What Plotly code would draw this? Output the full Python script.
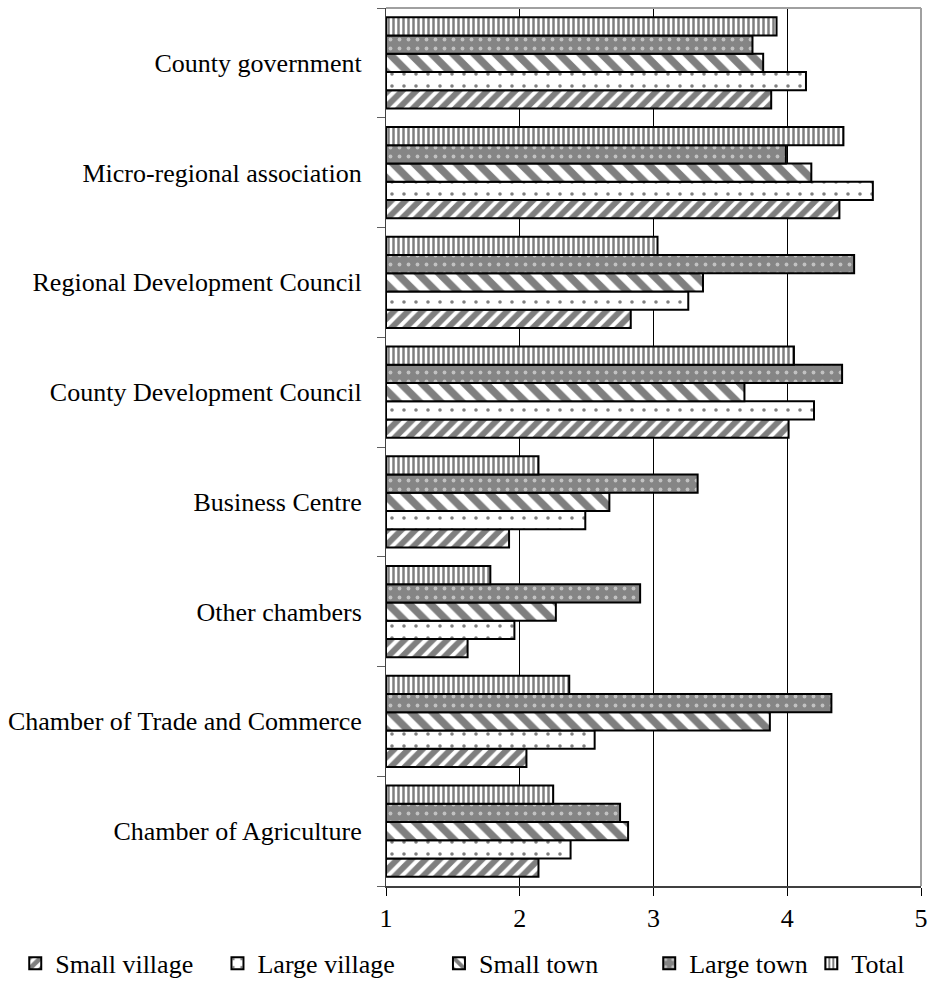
import plotly.graph_objects as go

# categories listed bottom-to-top (plotly puts the first category at the bottom)
categories = [
    "Chamber of Agriculture",
    "Chamber of Trade and Commerce",
    "Other chambers",
    "Business Centre",
    "County Development Council",
    "Regional Development Council",
    "Micro-regional association",
    "County government",
]

small_village = [2.14, 2.05, 1.61, 1.92, 4.01, 2.83, 4.39, 3.88]
large_village = [2.38, 2.56, 1.96, 2.49, 4.20, 3.26, 4.64, 4.14]
small_town = [2.81, 3.87, 2.27, 2.67, 3.68, 3.37, 4.18, 3.82]
large_town = [2.75, 4.33, 2.90, 3.33, 4.41, 4.50, 3.99, 3.74]
total = [2.25, 2.37, 1.78, 2.14, 4.05, 3.03, 4.42, 3.92]

x_ticks = [1, 2, 3, 4, 5]

FONT = "Liberation Serif, Times New Roman, serif"

series = [
    ("Small village", small_village, dict(shape="/", fgcolor="black", bgcolor="white", size=10, solidity=0.6)),
    ("Large village", large_village, dict(shape=".", fgcolor="black", bgcolor="white", size=12, solidity=0.07)),
    ("Small town", small_town, dict(shape="\\", fgcolor="black", bgcolor="white", size=15, solidity=0.5)),
    ("Large town", large_town, dict(shape=".", fgcolor="white", bgcolor="#858585", size=9, solidity=0.14)),
    ("Total", total, dict(shape="|", fgcolor="black", bgcolor="white", size=5, solidity=0.5)),
]

# one small legend per series so each entry can sit where the original has it
legend_x = [-0.693, -0.315, 0.099, 0.492, 0.795]

fig = go.Figure()
for i, (name, vals, pat) in enumerate(series):
    legend_id = "legend" if i == 0 else f"legend{i + 1}"
    fig.add_trace(go.Bar(
        y=categories,
        x=[v - 1 for v in vals],  # bars start at 1
        base=1,
        orientation="h",
        name=name,
        legend=legend_id,
        marker=dict(color="white", pattern=pat, line=dict(color="black", width=2)),
    ))
    fig.update_layout({legend_id: dict(
        orientation="h",
        x=legend_x[i], xanchor="left",
        y=-0.088, yanchor="middle",
        bgcolor="rgba(0,0,0,0)",
        font=dict(family=FONT, size=26, color="black"),
        itemwidth=30,
    )})

fig.update_layout(
    width=936,
    height=995,
    margin=dict(l=385, r=10, t=8, b=103),
    barmode="group",
    bargap=0.17,
    bargroupgap=0,
    plot_bgcolor="white",
    paper_bgcolor="white",
    font=dict(family=FONT, size=26, color="black"),
    showlegend=True,
)

fig.update_xaxes(
    range=[1, 5],
    tickvals=x_ticks,
    ticks="outside",
    ticklen=8,
    tickcolor="black",
    showgrid=True,
    gridcolor="black",
    gridwidth=1,
    showline=True,
    linecolor="#404040",
    linewidth=2,
    zeroline=False,
    ticklabeloverflow="allow",
    tickfont=dict(size=26),
)

fig.update_yaxes(
    ticks="outside",
    tickson="boundaries",
    ticklen=8,
    tickcolor="#606060",
    showline=True,
    linecolor="#404040",
    linewidth=1,
    showgrid=False,
    ticklabelstandoff=18,
    tickfont=dict(size=26),
)

# grey frame on top and right of the plot area
fig.add_shape(type="line", xref="paper", yref="paper", x0=0, x1=1, y0=1, y1=1,
              line=dict(color="#a0a0a0", width=2))
fig.add_shape(type="line", xref="paper", yref="paper", x0=1, x1=1, y0=0, y1=1,
              line=dict(color="#a0a0a0", width=2))

# drop the default 8px body margin so the figure fills the window exactly
fig.write_html("out.html", config={"displayModeBar": False},
               post_script="document.body.style.margin='0';")
